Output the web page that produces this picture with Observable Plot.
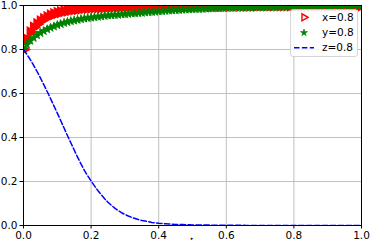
<!DOCTYPE html>
<html><head><meta charset="utf-8">
<script src="https://cdn.jsdelivr.net/npm/d3@7"></script>
<script src="https://cdn.jsdelivr.net/npm/@observablehq/plot@0.6"></script>
<style>
html,body{margin:0;padding:0;background:#fff;}
svg{display:block;}
</style>
</head><body>
<div id="chart"></div>
<script>
const xs = [0.00,0.01,0.02,0.03,0.04,0.05,0.06,0.07,0.08,0.09,
0.10,0.11,0.12,0.13,0.14,0.15,0.16,0.17,0.18,0.19,
0.20,0.21,0.22,0.23,0.24,0.25,0.26,0.27,0.28,0.29,
0.30,0.31,0.32,0.33,0.34,0.35,0.36,0.37,0.38,0.39,
0.40,0.41,0.42,0.43,0.44,0.45,0.46,0.47,0.48,0.49,
0.50,0.51,0.52,0.53,0.54,0.55,0.56,0.57,0.58,0.59,
0.60,0.61,0.62,0.63,0.64,0.65,0.66,0.67,0.68,0.69,
0.70,0.71,0.72,0.73,0.74,0.75,0.76,0.77,0.78,0.79,
0.80,0.81,0.82,0.83,0.84,0.85,0.86,0.87,0.88,0.89,
0.90,0.91,0.92,0.93,0.94,0.95,0.96,0.97,0.98,0.99,1.00];

const xSeries = [0.800,0.845,0.878,0.900,0.915,0.928,0.938,0.947,0.955,0.961,
0.966,0.970,0.974,0.977,0.980,0.982,0.984,0.986,0.988,0.989,
0.990,0.991,0.992,0.992,0.993,0.994,0.994,0.995,0.995,0.996,
0.996,0.996,0.997,0.997,0.997,0.997,0.998,0.998,0.998,0.998,
0.998,0.999,0.999,0.999,0.999,0.999,0.999,0.999,0.999,0.999,
0.999,0.999,0.999,0.999,0.999,0.999,0.999,0.999,0.999,0.999,
0.999,0.999,0.999,0.999,0.999,0.999,0.999,0.999,0.999,0.999,
1.000,1.000,1.000,1.000,1.000,1.000,1.000,1.000,1.000,1.000,
1.000,1.000,1.000,1.000,1.000,1.000,1.000,1.000,1.000,1.000,
1.000,1.000,1.000,1.000,1.000,1.000,1.000,1.000,1.000,1.000,1.000];

const ySeries = [0.800,0.822,0.840,0.853,0.865,0.875,0.884,0.892,0.899,0.905,
0.911,0.916,0.921,0.925,0.929,0.932,0.935,0.938,0.941,0.943,
0.945,0.947,0.949,0.951,0.953,0.955,0.956,0.957,0.958,0.960,
0.961,0.962,0.964,0.965,0.966,0.967,0.969,0.970,0.971,0.972,
0.974,0.975,0.976,0.977,0.978,0.979,0.980,0.981,0.982,0.983,
0.984,0.984,0.985,0.985,0.986,0.987,0.987,0.988,0.988,0.989,
0.990,0.990,0.990,0.991,0.991,0.991,0.992,0.992,0.992,0.993,
0.993,0.993,0.993,0.994,0.994,0.994,0.994,0.995,0.995,0.995,
0.995,0.996,0.996,0.996,0.996,0.996,0.997,0.997,0.997,0.997,
0.997,0.997,0.998,0.998,0.998,0.998,0.998,0.998,0.999,0.999,0.999];

const zSeries = [0.800,0.778,0.754,0.728,0.700,0.671,0.640,0.609,0.577,0.544,
0.511,0.477,0.443,0.409,0.376,0.343,0.311,0.280,0.251,0.226,
0.202,0.180,0.159,0.140,0.122,0.106,0.092,0.079,0.068,0.058,
0.050,0.043,0.037,0.032,0.027,0.023,0.020,0.017,0.014,0.012,
0.010,0.009,0.008,0.007,0.006,0.005,0.004,0.004,0.003,0.003,
0.002,0.002,0.002,0.002,0.002,0.002,0.001,0.001,0.001,0.001,
0.001,0.001,0.001,0.001,0.001,0.001,0.000,0.000,0.000,0.000,
0.000,0.000,0.000,0.000,0.000,0.000,0.000,0.000,0.000,0.000,
0.000,0.000,0.000,0.000,0.000,0.000,0.000,0.000,0.000,0.000,
0.000,0.000,0.000,0.000,0.000,0.000,0.000,0.000,0.000,0.000,0.000];

const tickValues = [0, 0.2, 0.4, 0.6, 0.8, 1.0];
const seriesLabels = ["x=0.8", "y=0.8", "z=0.8"];
const seriesColors = ["red", "green", "blue"];

const data = xs.map((x, i) => ({x, a: xSeries[i], b: ySeries[i], c: zSeries[i]}));

const plot = Plot.plot({
  width: 370,
  height: 241,
  marginLeft: 23,
  marginRight: 9,
  marginTop: 5,
  marginBottom: 16,
  style: {fontFamily: "DejaVu Sans, sans-serif", fontSize: "10.5px", color: "black", background: "white", overflow: "visible"},
  x: {domain: [0, 1]},
  y: {domain: [0, 1]},
  marks: [
    Plot.gridX(tickValues, {stroke: "#b0b0b0", strokeOpacity: 1, strokeWidth: 0.8}),
    Plot.gridY(tickValues, {stroke: "#b0b0b0", strokeOpacity: 1, strokeWidth: 0.8}),
    Plot.dot(data, {x: "x", y: "a", symbol: "triangle", rotate: 90, r: 3.7, fill: seriesColors[0], stroke: seriesColors[0], strokeWidth: 1.6, clip: true}),
    Plot.dot(data, {x: "x", y: "b", symbol: "star", r: 2.7, fill: seriesColors[1], stroke: seriesColors[1], strokeWidth: 0.8, clip: true}),
    Plot.line(data, {x: "x", y: "c", stroke: seriesColors[2], strokeWidth: 1.5, strokeDasharray: "5.5,2.4", clip: true}),
    Plot.frame({stroke: "black", strokeWidth: 1}),
    Plot.axisX(tickValues, {tickFormat: d => d.toFixed(1), tickSize: 3.5, tickPadding: 2.5, label: null}),
    Plot.axisY(tickValues, {tickFormat: d => d.toFixed(1), tickSize: 3.5, tickPadding: 2.5, label: null})
  ]
});
document.getElementById("chart").appendChild(plot);

// legend
const svg = d3.select(plot);
const lg = svg.append("g").attr("font-family", "DejaVu Sans, sans-serif").attr("font-size", "10.5px").attr("text-anchor", "start");
lg.append("rect").attr("x", 290.5).attr("y", 9.5).attr("width", 67).attr("height", 47).attr("rx", 2.5)
  .attr("fill", "white").attr("fill-opacity", 0.85).attr("stroke", "#cccccc").attr("stroke-width", 0.8);
const rows = [17.3, 32.7, 47.7];
lg.append("path").attr("d", d3.symbol(d3.symbolTriangle, 2.6 * 2.6 * Math.PI)())
  .attr("transform", `translate(304,${rows[0]}) rotate(90)`).attr("fill", "none").attr("stroke", seriesColors[0]).attr("stroke-width", 1.4);
lg.append("path").attr("d", d3.symbol(d3.symbolStar, 2.2 * 2.2 * Math.PI)())
  .attr("transform", `translate(304,${rows[1]})`).attr("fill", seriesColors[1]).attr("stroke", seriesColors[1]).attr("stroke-width", 0.6);
lg.append("line").attr("x1", 294).attr("x2", 314).attr("y1", rows[2]).attr("y2", rows[2])
  .attr("stroke", seriesColors[2]).attr("stroke-width", 1.5).attr("stroke-dasharray", "5.5,2.4");
seriesLabels.forEach((t, i) => {
  lg.append("text").attr("x", 322).attr("y", rows[i]).attr("dy", "0.35em").attr("text-anchor", "start").attr("fill", "black").text(t);
});
svg.append("text").attr("x", 192).attr("y", 238.5).attr("dy", "0.35em").attr("font-size", "5px").attr("fill", "black").text("▸");
</script>
</body></html>
